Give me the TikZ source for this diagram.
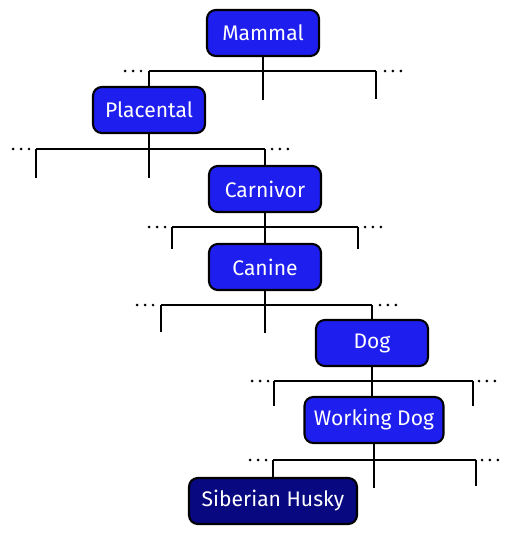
\documentclass[tikz,border=0pt]{standalone}
\usepackage{fontspec}
\setmainfont{Fira Sans}
\usepackage{tikz}
\usetikzlibrary{calc}
\usepackage{xcolor}
\definecolor{taxblue}{RGB}{30,30,238}
\definecolor{taxnavy}{RGB}{8,8,128}

\begin{document}
\begin{tikzpicture}[
      x=0.02cm, y=-0.02cm,
      taxon/.style={draw=black, line width=1.2pt, rounded corners=5pt, fill=taxblue,
        text=white, minimum width=2.24cm, minimum height=0.92cm},
      leaf/.style={taxon, fill=taxnavy, minimum width=3.36cm},
      link/.style={line width=1.1pt},
      more/.style={line width=1.7pt, line cap=round, dash pattern=on 0pt off 4.5pt},
      every node/.style={font=\fontsize{12}{14}\selectfont}
    ]
    \useasboundingbox (0,0) rectangle (514,535);

    \node[taxon] (mammal) at (263,33) {Mammal};
    \node[taxon] (placental) at (149,110) {Placental};
    \node[taxon] (carnivor) at (265,189) {Carnivor};
    \node[taxon] (canine) at (265,267) {Canine};
    \node[taxon] (dog) at (372,343) {Dog};
    \node[taxon, minimum width=2.78cm] (working) at (374,420) {Working Dog};
    \node[leaf] (husky) at (273,501) {Siberian Husky};

    % Mammal
    \coordinate (aL) at (149,71); \coordinate (aM) at (263,71); \coordinate (aR) at (376,71);
    \draw[link] (mammal.south) -- (aM);
    \draw[link] (aL) -- (aR);
    \draw[link] (aL) -- (placental.north);
    \draw[link] (aM) -- ++(0,29);
    \draw[link] (aR) -- ++(0,28);
    \draw[more] (aL) ++(-8,0) -- ++(-20,0);
    \draw[more] (aR) ++(9,0) -- ++(20,0);

    % Placental
    \coordinate (bL) at (36,149); \coordinate (bM) at (149,149); \coordinate (bR) at (265,149);
    \draw[link] (placental.south) -- (bM);
    \draw[link] (bL) -- (bR);
    \draw[link] (bR) -- (carnivor.north);
    \draw[link] (bL) -- ++(0,29);
    \draw[link] (bM) -- ++(0,29);
    \draw[more] (bL) ++(-7,0) -- ++(-16,0);
    \draw[more] (bR) ++(7,0) -- ++(20,0);

    % Carnivor
    \coordinate (cL) at (172,227); \coordinate (cM) at (265,227); \coordinate (cR) at (358,227);
    \draw[link] (carnivor.south) -- (cM);
    \draw[link] (cL) -- (cR);
    \draw[link] (cM) -- (canine.north);
    \draw[link] (cL) -- ++(0,22);
    \draw[link] (cR) -- ++(0,22);
    \draw[more] (cL) ++(-7,0) -- ++(-16,0);
    \draw[more] (cR) ++(7,0) -- ++(18,0);

    % Canine
    \coordinate (dL) at (161,305); \coordinate (dM) at (265,305); \coordinate (dR) at (372,305);
    \draw[link] (canine.south) -- (dM);
    \draw[link] (dL) -- (dR);
    \draw[link] (dR) -- (dog.north);
    \draw[link] (dL) -- ++(0,27);
    \draw[link] (dM) -- ++(0,28);
    \draw[more] (dL) ++(-8,0) -- ++(-22,0);
    \draw[more] (dR) ++(8,0) -- ++(20,0);

    % Dog
    \coordinate (eL) at (274,381); \coordinate (eM) at (372,381); \coordinate (eR) at (473,381);
    \draw[link] (dog.south) -- (eM);
    \draw[link] (eL) -- (eR);
    \draw[link] (eM) -- (eM |- working.north);
    \draw[link] (eL) -- ++(0,25);
    \draw[link] (eR) -- ++(0,25);
    \draw[more] (eL) ++(-6,0) -- ++(-16,0);
    \draw[more] (eR) ++(6,0) -- ++(22,0);

    % Working Dog
    \coordinate (fL) at (273,460); \coordinate (fM) at (374,460); \coordinate (fR) at (476,460);
    \draw[link] (working.south) -- (fM);
    \draw[link] (fL) -- (fR);
    \draw[link] (fL) -- (husky.north);
    \draw[link] (fM) -- ++(0,28);
    \draw[link] (fR) -- ++(0,26);
    \draw[more] (fL) ++(-7,0) -- ++(-18,0);
    \draw[more] (fR) ++(6,0) -- ++(22,0);
  \end{tikzpicture}
\end{document}
